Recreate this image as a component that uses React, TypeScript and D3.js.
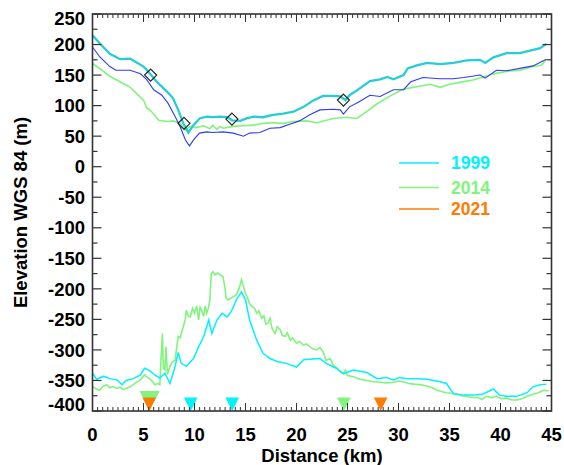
import * as d3 from 'd3';

// surface and bed profiles (distance in km, elevation in m)
const surf1999Km = [0, 0.7, 1.7, 2.7, 3.7, 4.2, 5, 5.6, 6.3, 7.3, 7.9, 8.4, 8.9, 9.4, 9.9, 10.5, 11.2, 11.8, 12.5, 13.2, 13.7, 14.5, 15.1, 15.8, 16.7, 17.7, 18.7, 19.7, 20.7, 21.6, 22.6, 23.6, 24.3, 24.8, 25.2, 26.1, 27.2, 28.2, 28.9, 29.5, 30.5, 30.9, 31.8, 32.8, 34.1, 35.4, 36.7, 38, 38.5, 39.3, 40.6, 41.9, 42.9, 43.9, 44.5];
const surf1999 = [215, 202, 185, 176, 177, 172, 164, 153, 139, 123, 112, 93, 71, 56, 68, 79, 82, 81, 82, 81, 76, 75, 79, 82, 81, 85, 87, 90, 98, 108, 116, 116, 115, 109, 117, 127, 140, 143, 147, 143, 150, 161, 166, 170, 168, 170, 174, 175, 170, 179, 186, 186, 190, 194, 201];

const surfBlueKm = [0, 0.7, 1.7, 2.3, 3.7, 4.7, 5.3, 6, 6.8, 7.4, 8.1, 8.6, 9.1, 9.5, 10, 10.5, 11.2, 11.8, 12.8, 13.8, 14.8, 15.4, 16.4, 17.4, 18.4, 19.4, 20.3, 21.3, 22.3, 23.6, 24.3, 24.6, 25.2, 26.1, 27.2, 28.2, 29.5, 30.5, 31.2, 32.4, 34.1, 35.4, 36.4, 38, 38.5, 39.6, 40.6, 41.9, 43.2, 44, 44.5];
const surfBlue = [196, 180, 164, 158, 158, 152, 143, 126, 117, 104, 82, 65, 44, 34, 46, 55, 57, 56, 57, 55, 50, 55, 56, 63, 64, 70, 75, 85, 93, 94, 93, 86, 98, 106, 117, 115, 126, 126, 139, 146, 144, 144, 146, 150, 145, 158, 157, 161, 165, 172, 176];

const surf2014Km = [0, 0.7, 1.7, 2.7, 3.7, 4.3, 5, 5.3, 5.8, 6.5, 7.3, 7.9, 8.6, 9.1, 9.6, 10.2, 10.9, 11.5, 11.8, 12.2, 12.5, 12.8, 13.8, 14.8, 15.8, 16.7, 17.7, 18.7, 19.7, 21, 22, 23.6, 24.9, 25.9, 26.6, 27.9, 29.2, 30.5, 31.8, 33.1, 34.1, 35, 36, 37.3, 38.3, 39.3, 40.6, 41.9, 43.2, 44, 44.5];
const surf2014 = [169, 161, 148, 139, 130, 120, 109, 97, 90, 76, 74, 75, 71, 60, 66, 64, 67, 62, 68, 61, 66, 63, 66, 67, 68, 71, 72, 71, 74, 75, 72, 79, 81, 79, 87, 103, 116, 127, 131, 135, 130, 135, 138, 142, 147, 152, 156, 158, 164, 166, 176];

const bed1999Km = [0, 0.4, 1.1, 1.7, 2.4, 2.9, 3.3, 4, 4.7, 5.1, 5.6, 6.1, 6.6, 7.1, 7.6, 8.1, 8.4, 8.7, 9.2, 9.9, 10.4, 10.9, 11.4, 11.7, 12.2, 12.7, 13.2, 13.6, 14.1, 14.6, 15, 15.4, 16.1, 16.7, 17.4, 18.1, 19, 20, 20.7, 21.6, 22.3, 22.9, 23.9, 24.6, 25.6, 26.9, 27.9, 28.8, 29.5, 30.1, 30.8, 31.8, 32.8, 34.1, 34.7, 35.4, 36.4, 37.4, 38.3, 39.3, 39.9, 40.6, 41.6, 42.6, 43.2, 43.9, 44.5];
const bed1999 = [-338, -348, -343, -347, -349, -357, -350, -347, -341, -330, -334, -341, -346, -338, -355, -327, -304, -322, -327, -314, -295, -278, -251, -273, -251, -240, -246, -237, -218, -205, -218, -251, -284, -305, -314, -319, -322, -328, -316, -315, -314, -322, -330, -339, -333, -337, -347, -345, -349, -345, -347, -347, -348, -352, -355, -372, -374, -374, -372, -364, -374, -376, -376, -370, -360, -357, -356];

const bed2014Km = [0, 0.4, 0.7, 1, 1.4, 1.7, 2, 2.4, 2.7, 3, 3.3, 3.7, 4, 4.4, 4.7, 5.1, 5.4, 5.6, 5.9, 6.1, 6.4, 6.6, 6.75, 6.85, 6.95, 7.1, 7.2, 7.35, 7.6, 7.8, 8.1, 8.3, 8.4, 8.6, 8.9, 9.1, 9.2, 9.4, 9.6, 9.8, 10, 10.2, 10.4, 10.55, 10.7, 10.9, 11.05, 11.2, 11.35, 11.5, 11.65, 11.8, 12, 12.3, 12.5, 12.8, 13, 13.1, 13.3, 13.6, 13.9, 14.1, 14.4, 14.6, 14.8, 15, 15.2, 15.4, 15.6, 15.9, 16.1, 16.3, 16.6, 16.8, 17, 17.2, 17.4, 17.6, 17.9, 18.1, 18.4, 18.6, 18.9, 19.1, 19.4, 19.6, 20, 20.3, 20.7, 21, 21.3, 21.6, 22, 22.3, 22.6, 22.9, 23.3, 23.6, 24, 24.3, 24.6, 24.8, 25, 25.6, 26.2, 26.9, 27.5, 28.2, 28.8, 29.5, 30, 30.5, 31, 31.5, 32.2, 32.8, 33.3, 33.8, 34.2, 34.7, 35.2, 35.7, 36.2, 36.7, 37.2, 37.7, 38.2, 38.6, 39.1, 39.6, 40.1, 40.6, 41.1, 41.6, 42.1, 42.6, 43.1, 43.6, 44.2, 44.7];
const bed2014 = [-360, -364, -366, -360, -357, -362, -360, -363, -361, -365, -363, -360, -357, -352, -349, -341, -345, -347, -352, -357, -355, -357, -306, -273, -330, -333, -295, -340, -327, -320, -317, -290, -278, -280, -262, -250, -235, -245, -246, -232, -240, -228, -251, -230, -235, -245, -228, -240, -232, -218, -175, -172, -177, -174, -177, -180, -200, -215, -218, -215, -212, -210, -198, -185, -196, -207, -215, -224, -228, -232, -240, -236, -248, -244, -258, -256, -248, -265, -273, -262, -267, -276, -278, -272, -284, -280, -289, -286, -292, -290, -295, -298, -300, -296, -303, -317, -314, -325, -330, -336, -339, -333, -342, -344, -348, -350, -352, -353, -354, -353, -351, -352, -355, -356, -357, -359, -362, -366, -368, -370, -371, -372, -375, -376, -378, -378, -381, -376, -378, -376, -380, -379, -382, -382, -380, -376, -373, -371, -366, -367];

// diamonds on the 1999 surface
const diamondKm = [5.7, 8.97, 13.67, 24.6];
const diamondElev = [150, 71, 78, 109];

// triangles along the bottom axis
const triKm = [5.6, 5.56, 9.63, 13.7, 24.65, 28.25];
const triYear = ['2014big', '2021', '1999', '1999', '2014', '2021'];

const legendYears = ['1999', '2014', '2021'];
const yTicks = d3.range(-400, 251, 50);
const xTicks = d3.range(0, 46, 5);

const W = 564, H = 465;
const m = { left: 92.5, right: 12.5, top: 14, bottom: 54 };

const cCyanTop = '#26cdd4';
const cCyan = '#00f2fa';
const cBlue = '#2d3df2';
const cGreen = '#80f47c';
const cOrange = '#ff7a00';
const font = '"Liberation Sans", Arial, Helvetica, sans-serif';

export default function App() {
  const x = d3.scaleLinear().domain([0, 45]).range([m.left, W - m.right]);
  const y = d3.scaleLinear().domain([-400, 250]).range([H - m.bottom, m.top]);
  const x0 = x.range()[0], x1 = x.range()[1];
  const yb = y.range()[0], yt = y.range()[1];

  const path = (km: number[], v: number[]) =>
    d3.line<number>().x((_, i) => x(km[i])).y(d => y(d))(v) || '';

  const minorX = d3.range(0, 45.01, 0.5);
  const minorY = d3.range(-400, 251, 25);

  const triColor = (t: string) => (t.startsWith('2014') ? cGreen : t === '2021' ? cOrange : cCyan);

  return (
    <svg width={W} height={H} style={{ position: 'absolute', left: 0, top: 0, background: '#fff' }}
      fontFamily={font} fontWeight="bold">
      {/* profiles */}
      <path d={path(surf2014Km, surf2014)} fill="none" stroke={cGreen} strokeWidth={1.6} />
      <path d={path(surfBlueKm, surfBlue)} fill="none" stroke={cBlue} strokeWidth={1.1} />
      <path d={path(surf1999Km, surf1999)} fill="none" stroke={cCyanTop} strokeWidth={2.3} />
      <path d={path(bed2014Km, bed2014)} fill="none" stroke={cGreen} strokeWidth={1.6} />
      <path d={path(bed1999Km, bed1999)} fill="none" stroke={cCyan} strokeWidth={1.5} />

      {diamondKm.map((k, i) => {
        const cx = x(k), cy = y(diamondElev[i]);
        return <path key={'d' + i} d={`M${cx},${cy - 6}L${cx + 6},${cy}L${cx},${cy + 6}L${cx - 6},${cy}Z`}
          fill="none" stroke="#222" strokeWidth={1.2} />;
      })}

      {triKm.map((k, i) => {
        const big = triYear[i] === '2014big';
        const hw = big ? 10 : 6.8, h = big ? 20 : 13.5;
        const cx = x(k);
        return <path key={'t' + i} d={`M${cx - hw},${yb - h}L${cx + hw},${yb - h}L${cx},${yb}Z`}
          fill={triColor(triYear[i])} />;
      })}

      {/* frame */}
      <rect x={x0} y={yt} width={x1 - x0} height={yb - yt} fill="none" stroke="#333" strokeWidth={1.6} />
      {minorX.map((k, i) => {
        const major = Math.abs(k % 5) < 1e-6;
        const len = major ? 8 : 4;
        return (
          <g key={'xt' + i} stroke="#333" strokeWidth={1}>
            <line x1={x(k)} x2={x(k)} y1={yb} y2={yb - len} />
            <line x1={x(k)} x2={x(k)} y1={yt} y2={yt + len} />
          </g>
        );
      })}
      {minorY.map((v, i) => {
        const major = v % 50 === 0;
        const len = major ? 9 : 5;
        return (
          <g key={'yt' + i} stroke="#333" strokeWidth={1.2}>
            <line x1={x0} x2={x0 + len} y1={y(v)} y2={y(v)} />
            <line x1={x1} x2={x1 - len} y1={y(v)} y2={y(v)} />
          </g>
        );
      })}

      {/* tick labels */}
      {yTicks.map(v => (
        <text key={'yl' + v} x={85} y={Math.min(Math.max(y(v), 18), 404)} dy="0.36em"
          textAnchor="end" fontSize={18.5} fill="#000">{v}</text>
      ))}
      {xTicks.map(v => (
        <text key={'xl' + v} x={x(v)} y={434} dy="0.36em" textAnchor="middle" fontSize={18.5} fill="#000">{v}</text>
      ))}
      <text x={(x0 + x1) / 2} y={455} dy="0.36em" textAnchor="middle" fontSize={18.5} fill="#000">Distance (km)</text>
      <text transform={`translate(20,${(yt + yb) / 2}) rotate(-90)`} dy="0.36em" textAnchor="middle"
        fontSize={18.5} fill="#000">Elevation WGS 84 (m)</text>

      {/* legend */}
      {legendYears.map((yr, i) => {
        const ly = [163, 187.5, 209][i];
        const c = [cCyan, cGreen, cOrange][i];
        return (
          <g key={'lg' + yr}>
            <line x1={399} x2={439} y1={ly} y2={ly} stroke={c} strokeWidth={1.6} />
            <text x={451} y={ly} dy="0.36em" fontSize={17.5} fill={c}>{yr}</text>
          </g>
        );
      })}
    </svg>
  );
}
